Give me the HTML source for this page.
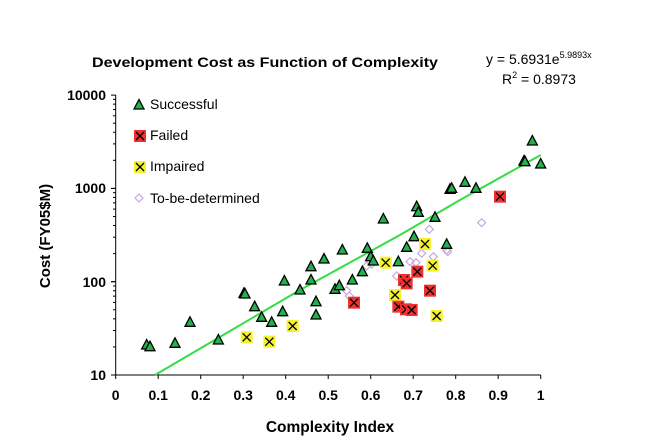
<!DOCTYPE html>
<html><head><meta charset="utf-8"><style>
html,body{margin:0;padding:0;background:#fff;}
svg{display:block;font-family:"Liberation Sans",Arial,sans-serif;}
</style></head><body>
<svg id="s" width="651" height="447" viewBox="0 0 651 447" xmlns="http://www.w3.org/2000/svg">
<rect width="651" height="447" fill="#fff"/>
<text x="265" y="67" font-size="14" font-weight="bold" text-anchor="middle" textLength="346" lengthAdjust="spacingAndGlyphs">Development Cost as Function of Complexity</text>
<text x="486" y="64" font-size="14">y = 5.6931e<tspan font-size="9" dy="-6">5.9893x</tspan></text>
<text x="502" y="84" font-size="14">R<tspan font-size="9" dy="-6">2</tspan><tspan dy="6"> = 0.8973</tspan></text>
<g font-size="14" font-weight="bold" text-anchor="end">
<text x="106" y="100">10000</text><text x="106" y="193">1000</text><text x="106" y="287">100</text><text x="106" y="380">10</text>
</g>
<g font-size="14" font-weight="bold" text-anchor="middle" id="xt"></g>
<text x="330" y="432" font-size="15.5" font-weight="bold" text-anchor="middle">Complexity Index</text>
<text transform="translate(50,236) rotate(-90)" font-size="15" font-weight="bold" text-anchor="middle">Cost (FY05$M)</text>
<g stroke="#000" stroke-width="1" id="ax">
<line x1="115.7" y1="95" x2="115.7" y2="375"/>
<line x1="115.7" y1="375" x2="540.7" y2="375"/>
</g>
<polyline points="155,375 300,290 400,235 460,200 540.7,155" fill="none" stroke="#33dd44" stroke-width="2"/>
<g id="m"></g>
<g font-size="14">
<text x="150" y="109">Successful</text>
<text x="150" y="140">Failed</text>
<text x="150" y="171">Impaired</text>
<text x="150" y="203">To-be-determined</text>
</g>
</svg>
<script>
var NS="http://www.w3.org/2000/svg",s=document.getElementById('s'),m=document.getElementById('m'),ax=document.getElementById('ax'),xt=document.getElementById('xt');
function el(t,a,p){var e=document.createElementNS(NS,t);for(var k in a)e.setAttribute(k,a[k]);(p||m).appendChild(e);return e;}
for(var i=0;i<=10;i++){var x=115.7+42.5*i;el('line',{x1:x,y1:375,x2:x,y2:379},ax);var t=el('text',{x:x,y:400},xt);t.textContent=i==0?'0':i==10?'1':'0.'+i;}
for(var d=0;d<3;d++)for(var k=1;k<=10;k++){var y=375-93.3*(d+Math.log10(k));el('line',{x1:k==1||k==10?111:113,y1:y,x2:115.7,y2:y},ax);}
function P(a){return a.map(function(p){return [100+p[0]/3,80+p[1]/3];});}
var tri=P([[140,795],[150,800],[225,790],[270,727],[355,780],[432,640],[435,642],[464,680],[485,712],[515,727],[548,695],[553,603],[600,630],[633,560],[633,600],[648,665],[648,705],[672,537],[705,628],[718,617],[727,510],[757,600],[787,575],[802,505],[812,530],[820,543],[850,417],[895,545],[920,502],[942,470],[950,380],[955,397],[1005,412],[1040,493],[1050,328],[1055,325],[1095,307],[1128,325],[1272,243],[1275,245],[1297,183],[1322,252]]);
var fail=P([[762,668],[912,600],[920,610],[895,680],[918,688],[935,690],[952,575],[990,632],[1200,350]]);
var imp=P([[440,772],[508,785],[578,738],[857,548],[885,645],[975,492],[998,557],[1010,708]]);
var tbd=P([[740,632],[748,648],[800,558],[815,552],[890,588],[930,545],[948,548],[965,520],[988,448],[1000,530],[1043,515],[1145,428],[1040,510]]);
function T(x,y){el('polygon',{points:(x)+','+(y-5.5)+' '+(x-5)+','+(y+4)+' '+(x+5)+','+(y+4),fill:'#22b14c',stroke:'#000','stroke-width':1.3});}
function X(x,y){el('path',{d:'M'+(x-4)+' '+(y-4)+'L'+(x+4)+' '+(y+4)+'M'+(x+4)+' '+(y-4)+'L'+(x-4)+' '+(y+4),stroke:'#000','stroke-width':1.3});}
function F(x,y){el('rect',{x:x-6,y:y-6,width:12,height:12,fill:'#ee3030'});X(x,y);}
function I(x,y){el('rect',{x:x-6,y:y-6,width:12,height:12,fill:'#f4f22a'});X(x,y);}
function D(x,y){el('polygon',{points:x+','+(y-4)+' '+(x+4)+','+y+' '+x+','+(y+4)+' '+(x-4)+','+y,fill:'none',stroke:'#c8a8e0','stroke-width':1.2});}
tbd.forEach(function(p){D(p[0],p[1]);});
tri.forEach(function(p){T(p[0],p[1]);});
imp.forEach(function(p){I(p[0],p[1]);});
fail.forEach(function(p){F(p[0],p[1]);});
T(139,105);F(140,136);I(140,167);D(139,198);
</script>
</body></html>
